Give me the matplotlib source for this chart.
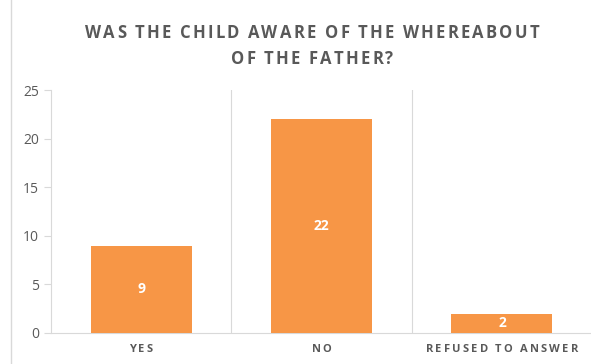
import matplotlib.pyplot as plt
from matplotlib.lines import Line2D
from matplotlib.font_manager import FontProperties, findfont, get_font

# data
categories = ["YES", "NO", "REFUSED TO ANSWER"]
counts = [9, 22, 2]
title_lines = ["WAS THE CHILD AWARE OF THE WHEREABOUT", "OF THE FATHER?"]

plt.rcParams['font.family'] = ['Open Sans', 'DejaVu Sans']
W, H, DPI = 591, 364, 100

bar_color = '#F79646'
grey = '#595959'
line_grey = '#D9D9D9'


def tracked_text(fig, xc, yc, s, size, spacing, color, weight='bold'):
    """draw text centred at pixel (xc, yc from top) with extra letter spacing"""
    fp = FontProperties(family='Open Sans', weight=weight, size=size)
    font = get_font(findfont(fp))
    font.set_size(size, DPI)
    adv = []
    for c in s:
        g = font.load_char(ord(c))
        adv.append(g.linearHoriAdvance / 65536)
    total = sum(adv) + spacing * (len(s) - 1)
    xpos = xc - total / 2
    for c, a in zip(s, adv):
        fig.text(xpos / W, 1 - yc / H, c, ha='left', va='center', color=color,
                 fontproperties=fp)
        xpos += a + spacing


fig = plt.figure(figsize=(W / DPI, H / DPI), dpi=DPI)
ax = fig.add_axes([51 / W, 31 / H, 1 - 51 / W + 0.002, 243 / H])

x = list(range(len(categories)))
bars = ax.bar(x, counts, width=0.56, color=bar_color, zorder=3)
for b, v in zip(bars, counts):
    ax.text(b.get_x() + b.get_width() / 2, v / 2, str(v), ha='center', va='center',
            color='white', fontsize=10, fontweight='bold')

ax.set_xlim(-0.5, len(categories) - 0.5)
ax.set_ylim(0, 25)
ax.set_yticks(range(0, 26, 5))
ax.set_xticks(x)
ax.set_xticklabels([])

# vertical separators between categories
for pos in [0.5, 1.5]:
    ax.axvline(pos, color=line_grey, lw=0.8, zorder=1)

for s in ['top', 'right']:
    ax.spines[s].set_visible(False)
ax.spines['left'].set_color(line_grey)
ax.spines['bottom'].set_color(line_grey)
ax.tick_params(axis='y', colors=line_grey, labelcolor=grey, labelsize=10, length=5)
ax.tick_params(axis='x', length=0)

# category labels with letter spacing
for i, cat in enumerate(categories):
    px = ax.transData.transform((i, 0))[0]
    tracked_text(fig, px, 350, cat, 8, 2.2, grey)

# title
tracked_text(fig, 312, 33, title_lines[0], 12, 2.2, grey)
tracked_text(fig, 312, 59, title_lines[1], 12, 2.2, grey)

# chart frame edge on the left
fig.add_artist(Line2D([11 / W, 11 / W], [0, 1], color=line_grey, lw=1,
                      transform=fig.transFigure))

fig.savefig('out.png', dpi=DPI)
